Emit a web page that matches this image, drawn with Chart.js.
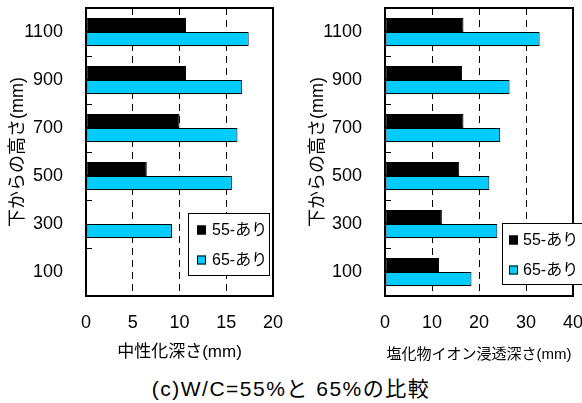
<!DOCTYPE html>
<html>
<head>
<meta charset="utf-8">
<script src="https://cdn.jsdelivr.net/npm/chart.js@4"></script>
<style>
  html, body { margin: 0; padding: 0; background: #fff; }
  #wrap { position: relative; width: 582px; height: 403px; overflow: hidden; }
  canvas { position: absolute; top: 0; }
  #left { left: 0; }
  #right { left: 291px; }
  #title {
    position: absolute; left: 0; width: 582px; top: 376px;
    text-align: center; font: 21px 'Liberation Sans', 'Noto Sans CJK JP', sans-serif;
    letter-spacing: 1.5px; line-height: 26px; color: #000;
  }
</style>
</head>
<body>
<div id="wrap">
  <canvas id="left" width="291" height="370"></canvas>
  <canvas id="right" width="291" height="370"></canvas>
  <div id="title">(c)W/C=55%と 65%の比較</div>
</div>
<script>
// Heights (categories, top to bottom)
const heights = ['1100', '900', '700', '500', '300', '100'];
const seriesNames = ['55-あり', '65-あり'];

// Carbonation depth (mm)
const carb55 = [10.7, 10.7, 10.0, 6.5, null, null];
const carb65 = [17.4, 16.7, 16.2, 15.6, 9.2, null];

// Chloride ion penetration depth (mm)
const chl55 = [16.7, 16.4, 16.7, 15.8, 12.1, 11.5];
const chl65 = [32.9, 26.5, 24.5, 22.2, 23.9, 18.4];

const leftTicks = [0, 5, 10, 15, 20];
const rightTicks = [0, 10, 20, 30, 40];

const yTitle = '下からの高さ(mm)';
const fontFamily = "'Liberation Sans', 'Noto Sans CJK JP', sans-serif";
const cyan = '#00CCFF';

Chart.defaults.font.family = fontFamily;
Chart.defaults.color = '#000';

// Frame, inward ticks and the in-plot legend
const framePlugin = {
    id: 'frame',
    afterDatasetsDraw(chart, args, opts) {
        const { ctx, chartArea: a } = chart;
        const y = chart.scales.y;
        ctx.save();
        ctx.strokeStyle = '#000';
        ctx.lineWidth = 1;
        const band = (y.getPixelForValue(1) - y.getPixelForValue(0));
        for (let i = 1; i < heights.length; i++) {
            const py = Math.round(y.getPixelForValue(i) - band / 2) + 0.5;
            ctx.beginPath();
            ctx.moveTo(a.left, py);
            ctx.lineTo(a.left + 6, py);
            ctx.stroke();
        }
        ctx.lineWidth = 2;
        ctx.strokeRect(a.left, a.top, a.right - a.left, a.bottom - a.top);

        // legend box
        const bx = a.right + opts.dx;
        const by = a.bottom + opts.dy;
        ctx.fillStyle = '#fff';
        ctx.fillRect(bx, by, opts.w, opts.h);
        ctx.lineWidth = 1;
        ctx.strokeRect(bx + 0.5, by + 0.5, opts.w, opts.h);
        const fills = ['#000', cyan];
        const rows = [17, 47];
        ctx.font = '16px ' + fontFamily;
        ctx.textBaseline = 'middle';
        ctx.textAlign = 'left';
        rows.forEach((r, i) => {
            ctx.fillStyle = fills[i];
            ctx.fillRect(bx + opts.sq, by + r - 4.5, 9, 9);
            ctx.strokeStyle = '#000';
            ctx.strokeRect(bx + opts.sq + 0.5, by + r - 4.5 + 0.5, 8, 8);
            ctx.fillStyle = '#000';
            ctx.fillText(seriesNames[i], bx + opts.tx, by + r + 1);
        });
        ctx.restore();
    },
};

const makeChart = (canvas, d55, d65, ticks, xTitle, opts) => {
    const maxX = ticks[ticks.length - 1];
    return new Chart(canvas, {
        type: 'bar',
        data: {
            labels: heights,
            datasets: [
                { label: seriesNames[0], data: d55, backgroundColor: '#000', borderColor: '#000', borderWidth: 1 },
                { label: seriesNames[1], data: d65, backgroundColor: cyan, borderColor: '#000', borderWidth: 1 },
            ],
        },
        options: {
            indexAxis: 'y',
            responsive: false,
            animation: false,
            devicePixelRatio: 1,
            datasets: {
                bar: { categoryPercentage: 0.58, barPercentage: 1.0, borderSkipped: false },
            },
            layout: { padding: { top: 8, right: opts.padRight, left: 0, bottom: 0 } },
            plugins: {
                legend: { display: false },
                tooltip: { enabled: false },
                frame: opts.legend,
            },
            scales: {
                x: {
                    min: 0,
                    max: maxX,
                    afterBuildTicks: (s) => { s.ticks = ticks.map(v => ({ value: v })); },
                    afterFit: (s) => { s.height = 74; s.paddingLeft = 0; s.paddingRight = 0; },
                    grid: {
                        color: '#000',
                        lineWidth: 1,
                        drawTicks: false,
                    },
                    border: { display: false, dash: [7, 5] },
                    ticks: { font: { size: 18 }, padding: 16, maxRotation: 0 },
                    title: {
                        display: true,
                        text: xTitle,
                        font: { size: opts.xTitleSize, lineHeight: 1.2 },
                        padding: { top: 0, bottom: opts.xTitlePad },
                    },
                },
                y: {
                    afterFit: (s) => { s.width = opts.yWidth; s.paddingTop = 0; s.paddingBottom = 0; },
                    grid: { display: false },
                    border: { display: false },
                    ticks: { font: { size: 18 }, padding: 15 },
                    title: {
                        display: true,
                        text: yTitle,
                        font: { size: 18, lineHeight: 1.2 },
                        padding: { top: opts.yTitlePad, bottom: 0 },
                    },
                },
            },
        },
        plugins: [framePlugin],
    });
};

makeChart(document.getElementById('left'), carb55, carb65, leftTicks, '中性化深さ(mm)', {
    padRight: 18,
    yWidth: 86,
    xTitleSize: 17,
    xTitlePad: 7,
    yTitlePad: 7,
    legend: { dx: -85, dy: -83, w: 81, h: 62, sq: 9, tx: 24 },
});

makeChart(document.getElementById('right'), chl55, chl65, rightTicks, '塩化物イオン浸透深さ(mm)', {
    padRight: 9,
    yWidth: 94,
    xTitleSize: 15,
    xTitlePad: 6,
    yTitlePad: 16,
    legend: { dx: -71, dy: -73, w: 90, h: 61, sq: 7, tx: 21 },
});
</script>
</body>
</html>
